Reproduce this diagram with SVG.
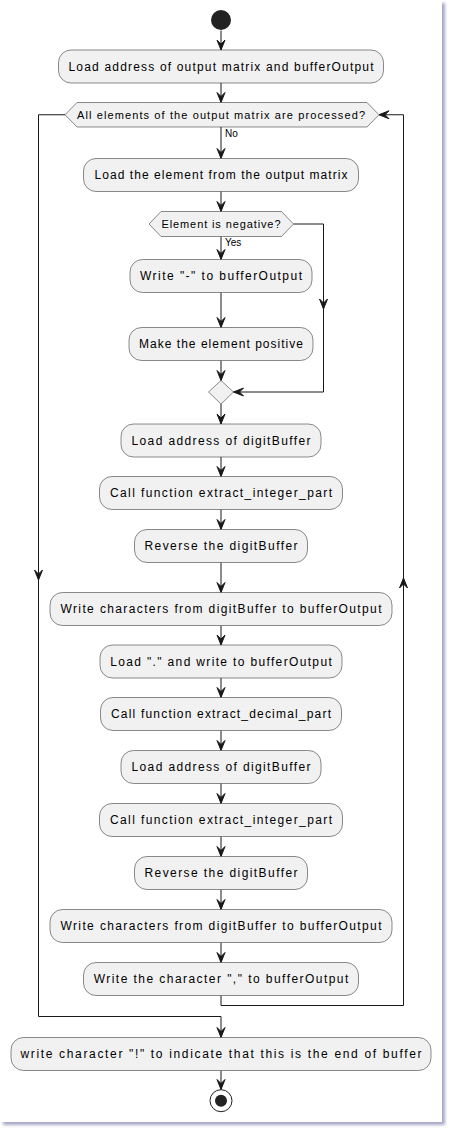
<svg xmlns="http://www.w3.org/2000/svg" width="453" height="1133" viewBox="0 0 453 1133">
<defs>
<style>
.node rect{fill:#F1F1F1;stroke:#181818;stroke-width:0.5}
.node polygon{fill:#F1F1F1;stroke:#181818;stroke-width:0.5}
.node text{font-family:"Liberation Sans",Arial,sans-serif;font-size:12px;fill:#000;text-anchor:middle}
.node text.d{font-size:11px}
.lbl{font-family:"Liberation Sans",Arial,sans-serif;font-size:10px;fill:#000}
#connectors path{fill:none;stroke:#181818;stroke-width:1}
</style>
<marker id="ah" viewBox="-11 -5 12 10" refX="0" refY="0" markerWidth="12" markerHeight="10" markerUnits="userSpaceOnUse" orient="auto">
<path d="M0,0 L-10,-4 L-6,0 L-10,4 Z" fill="#181818" stroke="#181818" stroke-width="1" stroke-linejoin="miter"/>
</marker>
<filter id="sh" x="-5%" y="-5%" width="110%" height="110%">
<feGaussianBlur stdDeviation="1.5"/>
</filter>
</defs>
<rect x="0" y="0" width="453" height="1133" fill="#FFFFFF"/>
<rect x="3" y="3" width="442" height="1122" fill="#A8A8C8" filter="url(#sh)"/>
<rect x="0" y="0" width="442" height="1122" fill="#FFFFFF"/>

<g id="connectors">
<path d="M221,30.5 V50" marker-end="url(#ah)"/>
<path d="M221,83 V102.5" marker-end="url(#ah)"/>
<path d="M221,127 V158.5" marker-end="url(#ah)"/>
<path d="M221,191.5 V211.5" marker-end="url(#ah)"/>
<path d="M221,236.5 V259.5" marker-end="url(#ah)"/>
<path d="M221,292.5 V327.5" marker-end="url(#ah)"/>
<path d="M221,360.5 V380.5" marker-end="url(#ah)"/>
<path d="M221,404 V424" marker-end="url(#ah)"/>
<path d="M221,457 V476.5" marker-end="url(#ah)"/>
<path d="M221,509.5 V529.5" marker-end="url(#ah)"/>
<path d="M221,562.5 V592.5" marker-end="url(#ah)"/>
<path d="M221,625.5 V645" marker-end="url(#ah)"/>
<path d="M221,678 V697.5" marker-end="url(#ah)"/>
<path d="M221,730.5 V750.5" marker-end="url(#ah)"/>
<path d="M221,783.5 V803.5" marker-end="url(#ah)"/>
<path d="M221,836.5 V856.5" marker-end="url(#ah)"/>
<path d="M221,889.5 V909.5" marker-end="url(#ah)"/>
<path d="M221,942.5 V962.5" marker-end="url(#ah)"/>
<path d="M221,1070.5 V1089.5" marker-end="url(#ah)"/>
<!-- skip branch -->
<path d="M293.5,224 H323.5 V309" marker-end="url(#ah)"/>
<path d="M323.5,309 V392 H233.5" marker-end="url(#ah)"/>
<!-- loop back -->
<path d="M221,995.5 V1005.5 H403.5 V578" marker-end="url(#ah)"/>
<path d="M403.5,578 V114.75 H379" marker-end="url(#ah)"/>
<!-- exit -->
<path d="M65,114.75 H38.5 V580" marker-end="url(#ah)"/>
<path d="M38.5,580 V1016.5 H221 V1037.5" marker-end="url(#ah)"/>
<text class="lbl" x="225" y="137">No</text>
<text class="lbl" x="225" y="246">Yes</text>
</g>

<g id="start"><circle cx="221" cy="20" r="10" fill="#222222"/></g>

<g id="n1" class="node"><rect x="58.5" y="50" width="325" height="33" rx="12.5"/><text x="221" y="70.5" textLength="305" lengthAdjust="spacing">Load address of output matrix and bufferOutput</text></g>

<g id="d1" class="node"><polygon points="65,114.75 77,102.5 367,102.5 379,114.75 367,127 77,127"/><text class="d" x="221" y="118.7" textLength="288" lengthAdjust="spacing">All elements of the output matrix are processed?</text></g>

<g id="n3" class="node"><rect x="83.5" y="158.5" width="275" height="33" rx="12.5"/><text x="221" y="179.3" textLength="253" lengthAdjust="spacing">Load the element from the output matrix</text></g>

<g id="d2" class="node"><polygon points="149,224 161,211.5 281.5,211.5 293.5,224 281.5,236.5 161,236.5"/><text class="d" x="221" y="228" textLength="119" lengthAdjust="spacing">Element is negative?</text></g>

<g id="n5" class="node"><rect x="130" y="259.5" width="182" height="33" rx="12.5"/><text x="221" y="280.3" textLength="162" lengthAdjust="spacing">Write "-" to bufferOutput</text></g>

<g id="n6" class="node"><rect x="129" y="327.5" width="184" height="33" rx="12.5"/><text x="221" y="348.3" textLength="164" lengthAdjust="spacing">Make the element positive</text></g>

<g id="merge" class="node"><polygon points="208.5,392 221,380.5 233.5,392 221,404"/></g>

<g id="n8" class="node"><rect x="121" y="424" width="200" height="33" rx="12.5"/><text x="221" y="444.8" textLength="179" lengthAdjust="spacing">Load address of digitBuffer</text></g>

<g id="n9" class="node"><rect x="99.5" y="476.5" width="243" height="33" rx="12.5"/><text x="221" y="497.3" textLength="222" lengthAdjust="spacing">Call function extract_integer_part</text></g>

<g id="n10" class="node"><rect x="134.5" y="529.5" width="173" height="33" rx="12.5"/><text x="221" y="550.3" textLength="153" lengthAdjust="spacing">Reverse the digitBuffer</text></g>

<g id="n11" class="node"><rect x="50" y="592.5" width="342" height="33" rx="12.5"/><text x="221" y="613.3" textLength="321" lengthAdjust="spacing">Write characters from digitBuffer to bufferOutput</text></g>

<g id="n12" class="node"><rect x="100" y="645" width="242" height="33" rx="12.5"/><text x="221" y="665.8" textLength="221.5" lengthAdjust="spacing">Load "." and write to bufferOutput</text></g>

<g id="n13" class="node"><rect x="100.5" y="697.5" width="241" height="33" rx="12.5"/><text x="221" y="718.3" textLength="220" lengthAdjust="spacing">Call function extract_decimal_part</text></g>

<g id="n14" class="node"><rect x="121" y="750.5" width="200" height="33" rx="12.5"/><text x="221" y="771.3" textLength="179" lengthAdjust="spacing">Load address of digitBuffer</text></g>

<g id="n15" class="node"><rect x="99.5" y="803.5" width="243" height="33" rx="12.5"/><text x="221" y="824.3" textLength="222" lengthAdjust="spacing">Call function extract_integer_part</text></g>

<g id="n16" class="node"><rect x="134.5" y="856.5" width="173" height="33" rx="12.5"/><text x="221" y="877.3" textLength="153" lengthAdjust="spacing">Reverse the digitBuffer</text></g>

<g id="n17" class="node"><rect x="50" y="909.5" width="342" height="33" rx="12.5"/><text x="221" y="930.3" textLength="321" lengthAdjust="spacing">Write characters from digitBuffer to bufferOutput</text></g>

<g id="n18" class="node"><rect x="83.5" y="962.5" width="275" height="33" rx="12.5"/><text x="221" y="983.3" textLength="254.5" lengthAdjust="spacing">Write the character "," to bufferOutput</text></g>

<g id="n19" class="node"><rect x="11" y="1037.5" width="420" height="33" rx="12.5"/><text x="221" y="1058.3" textLength="401" lengthAdjust="spacing">write character "!" to indicate that this is the end of buffer</text></g>

<g id="end"><circle cx="221" cy="1100.7" r="11" fill="#FFFFFF" stroke="#222222" stroke-width="1"/><circle cx="221" cy="1100.7" r="6" fill="#222222"/></g>
</svg>
